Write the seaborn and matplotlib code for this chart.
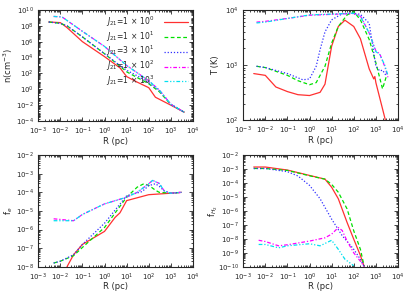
import numpy as np
import pandas as pd
import seaborn as sns
import matplotlib.pyplot as plt
from matplotlib.ticker import LogLocator, NullFormatter

labels = [r'$J_{21}$=1$\,\times\,$10$^0$', r'$J_{21}$=1$\,\times\,$10$^1$',
          r'$J_{21}$=3$\,\times\,$10$^1$', r'$J_{21}$=1$\,\times\,$10$^2$',
          r'$J_{21}$=1$\,\times\,$10$^3$']
colors = ['#ff3030', '#00e000', '#3030ff', '#ff00ff', '#00e0f0']
dashes = ['', (3, 2), (1, 1.5), (3, 1.5, 1, 1.5), (3, 1.5, 1, 1.5, 1, 1.5)]

# density n(cm^-3)
n_R = [
    [3e-3, 1e-2, 2e-2, 0.1, 1, 5, 10, 30, 100, 200, 1000, 4000],
    [3e-3, 1e-2, 2e-2, 0.1, 1, 5, 10, 30, 100, 300, 1000, 4000],
    [3e-3, 1e-2, 2e-2, 0.1, 1, 5, 10, 30, 100, 300, 1000, 4000],
    [5e-3, 1.2e-2, 0.1, 1, 10, 100, 300, 1000, 4000],
    [5e-3, 1.2e-2, 0.1, 1, 10, 100, 300, 1000, 4000],
]
n_v = [
    [3e8, 2.5e8, 6e7, 1e6, 1.3e4, 5e2, 4e1, 8, 1.6, 1e-1, 1e-2, 1.3e-3],
    [3e8, 2e8, 1e8, 4e6, 3e4, 8e2, 1.6e2, 3e1, 5, 5e-1, 1.2e-2, 1.3e-3],
    [3e8, 2e8, 1e8, 4e6, 3e4, 1e3, 2.5e2, 5e1, 7, 7e-1, 1.3e-2, 1.3e-3],
    [1.5e9, 1.3e9, 2e7, 2.5e5, 1e3, 1.2e1, 8e-1, 1.3e-2, 1.3e-3],
    [1.5e9, 1.3e9, 2e7, 2.5e5, 1e3, 1.2e1, 8e-1, 1.3e-2, 1.3e-3],
]

# temperature T (K)
T_R = [
    [3e-3, 1e-2, 3e-2, 0.1, 0.3, 1, 3, 5, 10, 20, 40, 100, 200, 500, 800, 900, 1000, 2700],
    [4e-3, 1e-2, 0.1, 0.3, 1, 2, 5, 10, 20, 50, 100, 200, 500, 1000, 2000, 3000],
    [4e-3, 1e-2, 0.1, 0.5, 1, 2, 3, 5, 10, 30, 100, 200, 500, 1000, 1500, 2000, 3000],
    [4e-3, 1e-2, 0.1, 1, 10, 100, 200, 500, 1000, 1500, 2500, 3500],
    [4e-3, 1e-2, 0.1, 1, 10, 100, 200, 500, 1000, 1500, 2500, 3500],
]
T_v = [
    [700, 650, 400, 330, 290, 280, 320, 450, 2200, 5000, 6500, 5000, 3000, 850, 560, 620, 480, 100],
    [950, 900, 650, 520, 440, 480, 950, 2500, 5000, 8100, 9300, 6600, 2900, 1100, 370, 630],
    [950, 900, 700, 540, 560, 950, 1900, 4000, 6600, 8500, 8700, 8300, 5700, 950, 780, 810, 630],
    [6000, 6200, 7000, 8000, 8300, 8600, 7800, 3800, 1800, 1600, 950, 600],
    [5800, 6000, 7000, 8100, 8400, 8700, 7600, 3800, 1750, 1550, 1000, 650],
]

# electron fraction f_e
fe_R = [
    [2e-2, 4e-2, 0.1, 1, 3, 5, 10, 100, 1000, 3000],
    [5e-3, 1e-2, 4e-2, 0.1, 1, 10, 30, 60, 100, 200, 300, 1000, 3000],
    [5e-3, 1e-2, 4e-2, 0.1, 1, 10, 50, 100, 200, 300, 500, 1000, 3000],
    [5e-3, 4e-2, 0.1, 1, 10, 30, 100, 150, 300, 500, 1000, 3000],
    [5e-3, 4e-2, 0.1, 1, 10, 30, 100, 150, 300, 500, 1000, 3000],
]
fe_v = [
    [1e-8, 4.5e-8, 1.6e-7, 8e-7, 4.5e-6, 8e-6, 3.6e-5, 7.5e-5, 9e-5, 1e-4],
    [1.6e-8, 2e-8, 4e-8, 1.1e-7, 1.3e-6, 5.5e-5, 1.9e-4, 2.9e-4, 2.4e-4, 1.3e-4, 1e-4, 9e-5, 1e-4],
    [1.6e-8, 2e-8, 4.5e-8, 1.6e-7, 2.2e-6, 6.5e-5, 1.1e-4, 2.3e-4, 2.9e-4, 2.1e-4, 1.2e-4, 9e-5, 1e-4],
    [3.8e-6, 3e-6, 6.5e-6, 2.4e-5, 5.5e-5, 1e-4, 2.9e-4, 4.4e-4, 3e-4, 1.2e-4, 9e-5, 1e-4],
    [3e-6, 3e-6, 6.5e-6, 2.4e-5, 5.5e-5, 1e-4, 2.9e-4, 4.4e-4, 3e-4, 1.2e-4, 9e-5, 1e-4],
]

# molecular hydrogen fraction f_H2
fh_R = [
    [3e-3, 1e-2, 0.1, 1, 5, 10, 20, 50, 100, 200, 300],
    [3e-3, 1e-2, 0.1, 1, 5, 10, 20, 50, 100, 200, 300],
    [3e-3, 1e-2, 0.1, 0.3, 1, 3, 10, 30, 100, 200, 300],
    [5e-3, 1e-2, 4e-2, 0.1, 1, 5, 10, 20, 30, 50, 100, 200, 300],
    [5e-3, 1e-2, 4e-2, 0.1, 1, 3, 10, 20, 40, 100],
]
fh_v = [
    [1.4e-3, 1.4e-3, 8.5e-4, 3.5e-4, 1.9e-4, 5e-5, 7.5e-6, 1.5e-7, 9.5e-9, 6.5e-10, 1e-10],
    [1.1e-3, 1.1e-3, 8e-4, 3.3e-4, 1.9e-4, 8e-5, 2.2e-5, 1.4e-6, 3.8e-8, 1.8e-9, 1e-10],
    [1.1e-3, 1.1e-3, 6.5e-4, 3.2e-4, 6.8e-5, 7.5e-6, 2.6e-7, 1.7e-8, 1.8e-9, 3.5e-10, 1e-10],
    [8e-9, 6.5e-9, 3.2e-9, 3.8e-9, 7e-9, 1.2e-8, 2.2e-8, 6.5e-8, 4e-8, 7e-9, 1e-9, 2.5e-10, 1e-10],
    [4e-9, 4e-9, 2.3e-9, 3.2e-9, 4.5e-9, 3.2e-9, 8e-9, 1.8e-9, 3.5e-10, 1.2e-10],
]


def long_df(Rs, vs):
    parts = []
    for lab, r, v in zip(labels, Rs, vs):
        parts.append(pd.DataFrame({'R': r, 'v': v, 'J': lab}))
    return pd.concat(parts, ignore_index=True)


sns.set_style('ticks')
plt.rcParams['font.family'] = ['DejaVu Sans']
plt.rcParams['mathtext.fontset'] = 'dejavusans'

fig = plt.figure(figsize=(4.15, 2.91), dpi=100)
boxes = [[0.092, 0.584, 0.373, 0.382], [0.586, 0.587, 0.373, 0.379],
         [0.092, 0.083, 0.373, 0.384], [0.586, 0.083, 0.373, 0.384]]
panels = [
    (n_R, n_v, r'n(cm$^{-3}$)', (1e-4, 1e10), [10.0 ** k for k in range(-4, 11, 2)]),
    (T_R, T_v, 'T (K)', (1e2, 1e4), [1e2, 1e3, 1e4]),
    (fe_R, fe_v, r'f$_e$', (1e-8, 1e-2), [10.0 ** k for k in range(-8, -1)]),
    (fh_R, fh_v, r'f$_{H_2}$', (1e-10, 1e-2), [10.0 ** k for k in range(-10, -1)]),
]
pal = dict(zip(labels, colors))
dash_map = dict(zip(labels, dashes))

for i, (box, (Rs, vs, ylab, ylim, yt)) in enumerate(zip(boxes, panels)):
    ax = fig.add_axes(box)
    df = long_df(Rs, vs)
    sns.lineplot(data=df, x='R', y='v', hue='J', style='J', palette=pal,
                 dashes=dash_map, hue_order=labels, style_order=labels,
                 sort=False, estimator=None, linewidth=0.9,
                 ax=ax, legend=(i == 0))
    ax.set_xscale('log')
    ax.set_yscale('log')
    ax.set_xlim(1e-3, 1e4)
    ax.set_ylim(*ylim)
    ax.set_xticks([10.0 ** k for k in range(-3, 5)])
    ax.set_yticks(yt)
    ax.xaxis.set_minor_locator(LogLocator(base=10, subs=np.arange(2, 10), numticks=20))
    ax.yaxis.set_minor_locator(LogLocator(base=10, subs=np.arange(2, 10), numticks=30))
    ax.xaxis.set_minor_formatter(NullFormatter())
    ax.yaxis.set_minor_formatter(NullFormatter())
    ax.tick_params(which='both', direction='in', top=True, right=True,
                   labelsize=5, width=0.6)
    ax.tick_params(axis='x', which='major', pad=3.5)
    ax.tick_params(axis='y', which='major', pad=3)
    ax.tick_params(which='major', length=3)
    ax.tick_params(which='minor', length=1.5)
    for s in ax.spines.values():
        s.set_linewidth(0.8)
    ax.set_xlabel('R (pc)', fontsize=6)
    ax.set_ylabel(ylab, fontsize=6)
    ax.xaxis.set_label_coords(0.5, -0.14)
    ax.yaxis.set_label_coords(-0.15, 0.5)
    if i == 0:
        ax.legend(loc='upper right', frameon=False, markerfirst=False,
                  fontsize=5.5, handlelength=3.2, labelspacing=0.05,
                  borderaxespad=0.2, handletextpad=1.2)

fig.savefig('out.png', dpi=100)
